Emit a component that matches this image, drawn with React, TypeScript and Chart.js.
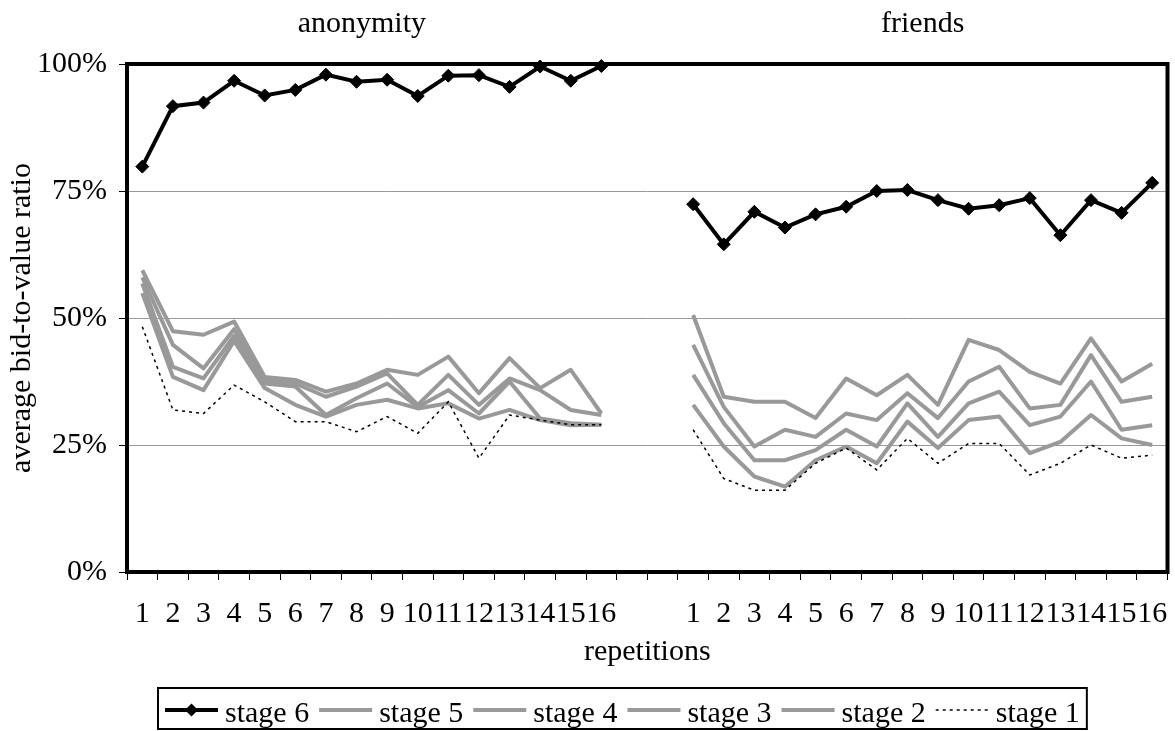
import React, { useEffect, useRef } from "react";
import { Chart, registerables } from "chart.js";

Chart.register(...registerables);

// ---------- data ----------
const repetitions = ["1", "2", "3", "4", "5", "6", "7", "8", "9", "10", "11", "12", "13", "14", "15", "16"];
const gapLabels = ["", ""];
const groupTitles = ["anonymity", "friends"];
const yTicks = [0, 25, 50, 75, 100];

const anonStage6 = [79.8, 91.7, 92.4, 96.7, 93.8, 94.9, 97.9, 96.5, 96.9, 93.7, 97.7, 97.8, 95.5, 99.5, 96.7, 99.6];
const anonStage5 = [59.4, 47.4, 46.7, 49.3, 38.4, 37.8, 35.5, 37.1, 39.8, 38.8, 42.4, 35.2, 42.1, 36.2, 39.8, 31.2];
const anonStage4 = [58.0, 44.7, 40.1, 47.8, 37.8, 37.1, 34.5, 36.5, 39.1, 32.9, 38.8, 32.9, 38.1, 35.8, 31.9, 30.9];
const anonStage3 = [56.8, 40.4, 38.1, 46.5, 37.1, 36.5, 30.9, 34.2, 37.1, 32.5, 35.8, 31.2, 37.5, 30.2, 29.3, 29.0];
const anonStage2 = [54.9, 38.4, 35.8, 45.5, 36.2, 32.9, 30.6, 32.9, 33.9, 32.2, 33.2, 30.2, 31.9, 29.9, 28.9, 29.0];
const anonStage1 = [48.3, 31.9, 31.2, 36.8, 33.5, 29.6, 29.6, 27.6, 30.6, 27.3, 33.5, 22.4, 30.9, 29.9, 29.0, 29.0];

const friendsStage6 = [72.4, 64.5, 70.9, 67.8, 70.4, 71.9, 75.0, 75.2, 73.2, 71.5, 72.2, 73.6, 66.3, 73.2, 70.7, 76.6];
const friendsStage5 = [50.6, 34.5, 33.5, 33.5, 30.3, 38.1, 34.8, 38.8, 32.9, 45.7, 43.7, 39.4, 37.1, 46.0, 37.5, 41.0];
const friendsStage4 = [44.7, 32.5, 24.7, 28.0, 26.6, 31.2, 29.9, 35.2, 30.3, 37.5, 40.4, 32.2, 32.9, 42.7, 33.5, 34.5];
const friendsStage3 = [38.8, 29.3, 22.0, 22.0, 24.0, 28.0, 24.7, 33.2, 26.6, 33.2, 35.5, 28.9, 30.6, 37.5, 28.0, 28.9];
const friendsStage2 = [32.9, 24.7, 18.8, 16.8, 22.0, 24.7, 21.4, 29.6, 24.4, 29.9, 30.6, 23.4, 25.6, 30.9, 26.3, 25.0];
const friendsStage1 = [28.0, 18.4, 16.1, 16.1, 21.4, 24.4, 20.1, 26.3, 21.4, 25.3, 25.3, 19.1, 21.4, 25.0, 22.4, 23.0];

const xLabels = [...repetitions, ...gapLabels, ...repetitions];
const joinGroups = (a: number[], f: number[]) => [...a, ...gapLabels.map(() => null), ...f];

// ---------- style ----------
const FONT = "'Liberation Serif', 'Times New Roman', serif";
const FS = 30;
const GRAY = "#999999";

const plotBorder = {
  id: "plotBorder",
  beforeDatasetsDraw(chart: any) {
    const { ctx, chartArea: a } = chart;
    ctx.save();
    ctx.strokeStyle = "#000";
    ctx.lineWidth = 4;
    ctx.strokeRect(a.left, a.top, a.right - a.left, a.bottom - a.top);
    ctx.restore();
  },
};

const groupTitlePlugin = {
  id: "groupTitles",
  afterDraw(chart: any) {
    const { ctx } = chart;
    const x = chart.scales.x;
    const n = repetitions.length;
    const g = gapLabels.length;
    const centers = [
      (x.getPixelForValue(0) + x.getPixelForValue(n - 1)) / 2 - 10,
      (x.getPixelForValue(n + g) + x.getPixelForValue(2 * n + g - 1)) / 2,
    ];
    ctx.save();
    ctx.font = `${FS}px ${FONT}`;
    ctx.fillStyle = "#000";
    ctx.textAlign = "center";
    ctx.textBaseline = "alphabetic";
    groupTitles.forEach((t, i) => ctx.fillText(t, centers[i], 32));
    ctx.restore();
  },
};

const boxLegend = {
  id: "boxLegend",
  afterDraw(chart: any) {
    const { ctx } = chart;
    const ds = chart.data.datasets;
    ctx.save();
    ctx.font = `${FS}px ${FONT}`;
    const sym = 53, gapA = 7, gapB = 10, pad = 7;
    const widths = ds.map((d: any) => ctx.measureText(d.label).width);
    let total = pad * 2;
    widths.forEach((w: number, i: number) => {
      total += sym + gapA + w + (i < widths.length - 1 ? gapB : 0);
    });
    const left = 158;
    const top = 688, bottom = 729;
    ctx.lineWidth = 2;
    ctx.strokeStyle = "#000";
    ctx.strokeRect(left, top, total, bottom - top);
    let x = left + pad;
    const ly = 710;
    ds.forEach((d: any, i: number) => {
      ctx.save();
      ctx.strokeStyle = d.borderColor;
      ctx.lineWidth = d.borderWidth;
      ctx.setLineDash(d.borderDash || []);
      ctx.beginPath();
      ctx.moveTo(x, ly);
      ctx.lineTo(x + sym, ly);
      ctx.stroke();
      ctx.setLineDash([]);
      if (d.pointRadius > 0) {
        const r = d.pointRadius;
        const cx = x + sym / 2;
        ctx.fillStyle = d.pointBackgroundColor;
        ctx.beginPath();
        ctx.moveTo(cx, ly - r);
        ctx.lineTo(cx + r, ly);
        ctx.lineTo(cx, ly + r);
        ctx.lineTo(cx - r, ly);
        ctx.closePath();
        ctx.fill();
      }
      ctx.restore();
      x += sym + gapA;
      ctx.fillStyle = "#000";
      ctx.textAlign = "left";
      ctx.textBaseline = "alphabetic";
      ctx.fillText(d.label, x, 722);
      x += widths[i] + gapB;
    });
    ctx.restore();
  },
};

export default function App() {
  const ref = useRef<HTMLCanvasElement | null>(null);

  useEffect(() => {
    if (!ref.current) return;
    Chart.defaults.font.family = FONT;
    Chart.defaults.color = "#000";

    const grayLine = (label: string, a: number[], f: number[]) => ({
      label,
      data: joinGroups(a, f),
      borderColor: GRAY,
      backgroundColor: GRAY,
      borderWidth: 4,
      pointRadius: 0,
      pointHoverRadius: 0,
      tension: 0,
      spanGaps: false,
      order: 2,
      borderJoinStyle: "round" as const,
    });

    const chart = new Chart(ref.current, {
      type: "line",
      data: {
        labels: xLabels,
        datasets: [
          {
            label: "stage 6",
            data: joinGroups(anonStage6, friendsStage6),
            borderColor: "#000",
            backgroundColor: "#000",
            pointBackgroundColor: "#000",
            pointBorderColor: "#000",
            borderWidth: 4,
            pointStyle: "rectRot",
            pointRadius: 6.5,
            pointBorderWidth: 1,
            tension: 0,
            spanGaps: false,
            clip: false as any,
            order: 0,
          } as any,
          grayLine("stage 5", anonStage5, friendsStage5),
          grayLine("stage 4", anonStage4, friendsStage4),
          grayLine("stage 3", anonStage3, friendsStage3),
          grayLine("stage 2", anonStage2, friendsStage2),
          {
            label: "stage 1",
            data: joinGroups(anonStage1, friendsStage1),
            borderColor: "#000",
            backgroundColor: "#000",
            borderWidth: 1.5,
            borderDash: [3, 4],
            pointRadius: 0,
            pointHoverRadius: 0,
            tension: 0,
            spanGaps: false,
            order: 1,
          } as any,
        ],
      },
      options: {
        responsive: true,
        maintainAspectRatio: false,
        animation: false,
        events: [],
        layout: { padding: { top: 64, right: 4, bottom: 59, left: 0 } },
        plugins: {
          legend: { display: false },
          tooltip: { enabled: false },
          title: { display: false },
        },
        scales: {
          x: {
            type: "category",
            offset: true,
            grid: {
              display: true,
              offset: true,
              drawOnChartArea: false,
              drawTicks: true,
              tickLength: 8,
              tickColor: "#000",
              tickWidth: 1,
              color: "#000",
            },
            border: { display: false },
            ticks: {
              autoSkip: false,
              maxRotation: 0,
              minRotation: 0,
              padding: 16,
              color: "#000",
              font: { size: FS, family: FONT },
            },
            title: {
              display: true,
              text: "repetitions",
              color: "#000",
              font: { size: FS, family: FONT },
              padding: { top: 0, bottom: 2 },
            },
            afterFit(scale: any) {
              scale.height = 100;
              scale.paddingLeft = 0;
              scale.paddingRight = 0;
            },
          },
          y: {
            min: 0,
            max: 100,
            afterBuildTicks(scale: any) {
              scale.ticks = yTicks.map((v) => ({ value: v }));
            },
            grid: {
              display: true,
              color: GRAY,
              lineWidth: 1,
              drawTicks: true,
              tickLength: 8,
              tickColor: "#000",
              tickWidth: 1,
            },
            border: { display: false },
            ticks: {
              padding: 12,
              color: "#000",
              font: { size: FS, family: FONT },
              callback: (v: any) => `${v}%`,
            },
            title: {
              display: true,
              text: "average bid-to-value ratio",
              color: "#000",
              font: { size: FS, family: FONT },
              padding: { top: 4, bottom: 0 },
            },
            afterFit(scale: any) {
              scale.width = 127;
              scale.paddingTop = 0;
              scale.paddingBottom = 0;
            },
          },
        },
      },
      plugins: [plotBorder, groupTitlePlugin, boxLegend],
    });

    return () => chart.destroy();
  }, []);

  return (
    <div style={{ position: "absolute", left: 0, top: 0, width: 1175, height: 731, background: "#fff" }}>
      <canvas ref={ref} style={{ width: "100%", height: "100%" }} />
    </div>
  );
}
